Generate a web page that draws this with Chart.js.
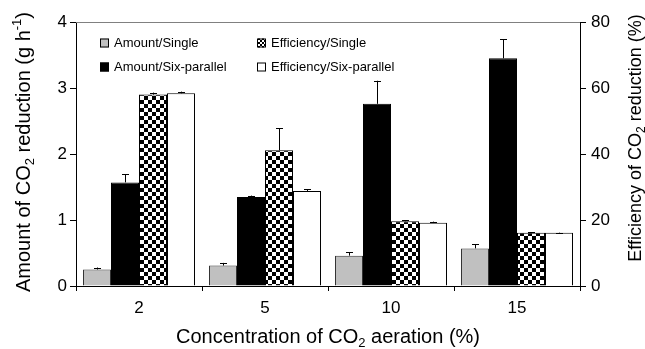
<!DOCTYPE html>
<html>
<head>
<meta charset="utf-8">
<script src="https://cdn.jsdelivr.net/npm/chart.js@4/dist/chart.umd.min.js"></script>
<style>
  html, body { margin: 0; padding: 0; background: #fff; }
  #wrap { width: 645px; height: 349px; }
</style>
</head>
<body>
<div id="wrap"><canvas id="co2Chart" width="645" height="349"></canvas></div>
<script>
// data
const concentraties = ["2", "5", "10", "15"];
const amountSingle = [0.25, 0.31, 0.46, 0.57];
const amountSingleErr = [0.03, 0.04, 0.05, 0.06];
const amountSix = [1.57, 1.35, 2.76, 3.45];
const amountSixErr = [0.12, 0.02, 0.35, 0.29];
const effSingle = [58.0, 41.1, 19.6, 16.1];
const effSingleErr = [0.6, 6.7, 0.3, 0.2];
const effSix = [58.4, 28.8, 19.2, 16.1];
const effSixErr = [0.5, 0.5, 0.3, 0.1];

const FONT = "Liberation Sans, Arial, sans-serif";

function maakRuit(cel) {
    const c = document.createElement("canvas");
    c.width = cel * 2;
    c.height = cel * 2;
    const g = c.getContext("2d");
    g.fillStyle = "#fff";
    g.fillRect(0, 0, c.width, c.height);
    g.fillStyle = "#000";
    g.fillRect(0, 0, cel, cel);
    g.fillRect(cel, cel, cel, cel);
    return g.createPattern(c, "repeat");
}

const ruit = maakRuit(4);
const ruitKlein = maakRuit(2);

// text with sub/superscripts, centred on (x, y), optionally rotated
function tekenRijkeTekst(ctx, delen, x, y, size, rot) {
    ctx.save();
    ctx.translate(x, y);
    if (rot) ctx.rotate(rot);
    const klein = Math.round(size * 0.65);
    let breedte = 0;
    delen.forEach(d => {
        ctx.font = (d.sub || d.sup ? klein : size) + "px " + FONT;
        d.w = ctx.measureText(d.t).width;
        breedte += d.w;
    });
    let px = -breedte / 2;
    ctx.fillStyle = "#000";
    ctx.textBaseline = "middle";
    ctx.textAlign = "left";
    delen.forEach(d => {
        ctx.font = (d.sub || d.sup ? klein : size) + "px " + FONT;
        let dy = 0;
        if (d.sub) dy = size * 0.3;
        if (d.sup) dy = -size * 0.35;
        ctx.fillText(d.t, px, dy);
        px += d.w;
    });
    ctx.restore();
}

const extraTekening = {
    id: "extraTekening",
    afterDatasetsDraw(chart) {
        const ctx = chart.ctx;
        const ca = chart.chartArea;

        // error bars (upward only)
        chart.data.datasets.forEach((ds, i) => {
            const meta = chart.getDatasetMeta(i);
            const schaal = chart.scales[ds.yAxisID];
            meta.data.forEach((bar, j) => {
                const top = schaal.getPixelForValue(ds.data[j] + ds.fout[j]);
                ctx.save();
                ctx.strokeStyle = "#000";
                ctx.lineWidth = 1;
                ctx.beginPath();
                ctx.moveTo(Math.round(bar.x) + 0.5, bar.y);
                ctx.lineTo(Math.round(bar.x) + 0.5, top);
                ctx.moveTo(Math.round(bar.x) - 3, Math.round(top) + 0.5);
                ctx.lineTo(Math.round(bar.x) + 4, Math.round(top) + 0.5);
                ctx.stroke();
                ctx.restore();
            });
        });

        // top frame line
        ctx.save();
        ctx.strokeStyle = "#808080";
        ctx.lineWidth = 1;
        ctx.beginPath();
        ctx.moveTo(ca.left, ca.top + 0.5);
        ctx.lineTo(ca.right, ca.top + 0.5);
        ctx.stroke();
        ctx.restore();

        // legend, two columns inside the plot
        const kolommen = [ca.left + 24, ca.left + 181];
        const rijen = [ca.top + 21, ca.top + 45];
        const plek = [[0, 0], [0, 1], [1, 0], [1, 1]];
        chart.data.datasets.forEach((ds, i) => {
            const bx = kolommen[plek[i][0]];
            const by = rijen[plek[i][1]];
            ctx.save();
            ctx.fillStyle = i === 2 ? ruitKlein : ds.backgroundColor;
            ctx.fillRect(bx, by - 4.5, 9, 9);
            ctx.strokeStyle = "#000";
            ctx.lineWidth = 1;
            ctx.strokeRect(bx + 0.5, by - 4, 8, 8);
            ctx.fillStyle = "#000";
            ctx.font = "13px " + FONT;
            ctx.textBaseline = "middle";
            ctx.fillText(ds.label, bx + 14, by + 0.5);
            ctx.restore();
        });

        // axis titles with subscripts
        tekenRijkeTekst(ctx, [
            { t: "Amount of CO" }, { t: "2", sub: true },
            { t: " reduction (g h" }, { t: "-1", sup: true }, { t: ")" }
        ], 24, 152, 20, -Math.PI / 2);
        tekenRijkeTekst(ctx, [
            { t: "Efficiency of CO" }, { t: "2", sub: true },
            { t: " reduction (%)" }
        ], 636, 138, 18, -Math.PI / 2);
        tekenRijkeTekst(ctx, [
            { t: "Concentration of CO" }, { t: "2", sub: true },
            { t: " aeration (%)" }
        ], 328, 337, 20, 0);
    }
};

new Chart(document.getElementById("co2Chart"), {
    type: "bar",
    data: {
        labels: concentraties,
        datasets: [
            { label: "Amount/Single", data: amountSingle, fout: amountSingleErr, yAxisID: "y",
              backgroundColor: "#c0c0c0", borderColor: "#333", borderWidth: 1 },
            { label: "Amount/Six-parallel", data: amountSix, fout: amountSixErr, yAxisID: "y",
              backgroundColor: "#000", borderColor: "#000", borderWidth: 1 },
            { label: "Efficiency/Single", data: effSingle, fout: effSingleErr, yAxisID: "y2",
              backgroundColor: ruit, borderColor: "#000", borderWidth: 1 },
            { label: "Efficiency/Six-parallel", data: effSix, fout: effSixErr, yAxisID: "y2",
              backgroundColor: "#fff", borderColor: "#000", borderWidth: 1 },
        ],
    },
    options: {
        responsive: false,
        animation: false,
        devicePixelRatio: 1,
        layout: { padding: { top: 22, left: 0, right: 0, bottom: 0 } },
        datasets: { bar: { categoryPercentage: 0.889, barPercentage: 1.0 } },
        plugins: { legend: { display: false }, tooltip: { enabled: false } },
        scales: {
            x: {
                afterFit: s => { s.height = 63; },
                grid: { offset: true, drawOnChartArea: false, tickLength: 5, tickColor: "#000" },
                border: { color: "#000", width: 1 },
                ticks: { color: "#000", padding: 7, font: { family: FONT, size: 17 } },
            },
            y: {
                position: "left",
                min: 0, max: 4,
                afterFit: s => { s.width = 76; },
                grid: { drawOnChartArea: false, tickLength: 6, tickColor: "#000" },
                border: { color: "#000", width: 1 },
                ticks: { stepSize: 1, color: "#000", padding: 3, font: { family: FONT, size: 17 } },
            },
            y2: {
                position: "right",
                min: 0, max: 80,
                afterFit: s => { s.width = 65; },
                grid: { drawOnChartArea: false, tickLength: 6, tickColor: "#000" },
                border: { color: "#000", width: 1 },
                ticks: { stepSize: 20, color: "#000", padding: 5, font: { family: FONT, size: 17 } },
            },
        },
    },
    plugins: [extraTekening],
});
</script>
</body>
</html>
